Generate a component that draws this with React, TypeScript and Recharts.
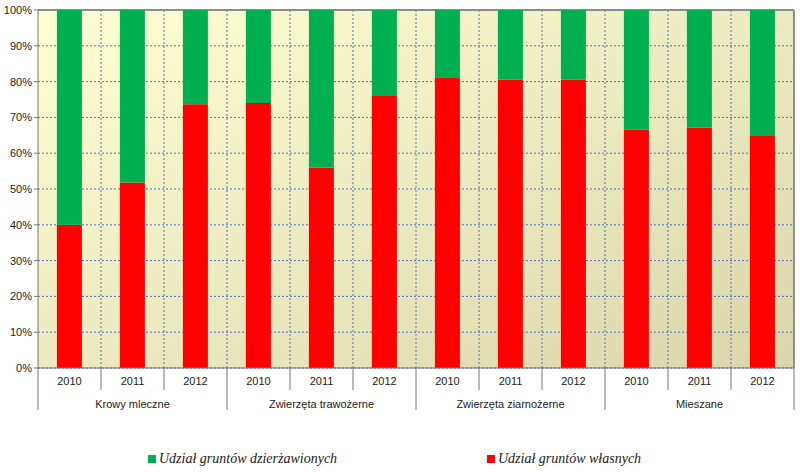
import React from "react"
import {
  BarChart,
  Bar,
  XAxis,
  YAxis,
  CartesianGrid,
  Customized
} from "recharts"

const groups = ["Krowy mleczne", "Zwierzęta trawożerne", "Zwierzęta ziarnożerne", "Mieszane"]
const years = ["2010", "2011", "2012"]
const owned = [40, 51.8, 73.7, 74, 56, 76, 81.2, 80.6, 80.5, 66.6, 67.2, 65]
const yTicks = [0, 10, 20, 30, 40, 50, 60, 70, 80, 90, 100]

const data = owned.map((v, i) => ({
  name: groups[Math.floor(i / 3)] + " " + years[i % 3],
  year: years[i % 3],
  group: groups[Math.floor(i / 3)],
  own: v,
  leased: +(100 - v).toFixed(1)
}))

const W = 800
const H = 472
const LEFT = 38
const RIGHT = 794
const TOP = 10
const BOTTOM = 368
const STEP = (RIGHT - LEFT) / data.length

const axisFont = "'Liberation Sans', Arial, sans-serif"

function XTick(props: any) {
  const { x, payload, index } = props
  const i = index ?? payload.index
  const d = data[i]
  const left = x - STEP / 2
  const isGroupStart = i % 3 === 0
  const isLast = i === data.length - 1
  return (
    <g>
      <line x1={left} y1={BOTTOM} x2={left} y2={isGroupStart ? 410 : 390} stroke="#777" />
      {isLast && <line x1={left + STEP} y1={BOTTOM} x2={left + STEP} y2={410} stroke="#777" />}
      <text x={x} y={BOTTOM + 17} textAnchor="middle" fontSize={11} fill="#222" fontFamily={axisFont}>
        {d.year}
      </text>
      {i % 3 === 1 && (
        <text x={x} y={BOTTOM + 40} textAnchor="middle" fontSize={11} fill="#222" fontFamily={axisFont}>
          {d.group}
        </text>
      )}
    </g>
  )
}

function Extras() {
  return (
    <g>
      <defs>
        <linearGradient id="bg" x1="0" y1="0" x2="1" y2="1">
          <stop offset="0%" stopColor="#FFFFD4" />
          <stop offset="100%" stopColor="#DAD6AC" />
        </linearGradient>
      </defs>
      <line x1={LEFT} y1={TOP} x2={RIGHT} y2={TOP} stroke="#888" strokeWidth={1.5} />
      <line x1={RIGHT} y1={TOP} x2={RIGHT} y2={BOTTOM} stroke="#888" strokeWidth={1.5} />
    </g>
  )
}

function LegendBox() {
  const item = (color: string, label: string, left: number) => (
    <div style={{ position: "absolute", left, top: 451, display: "flex", alignItems: "center" }}>
      <span style={{ width: 8, height: 8, background: color, marginRight: 3, display: "inline-block" }} />
      <span style={{ fontFamily: "'Liberation Serif', 'Times New Roman', serif", fontStyle: "italic", fontSize: 14, color: "#222" }}>
        {label}
      </span>
    </div>
  )
  return (
    <>
      {item("#00B050", "Udział gruntów dzierżawionych", 148)}
      {item("#FF0000", "Udział gruntów własnych", 487)}
    </>
  )
}

export default function App() {
  return (
    <div style={{ position: "absolute", left: 0, top: 0, width: W, height: H, background: "#fff" }}>
      <BarChart
        width={W}
        height={H}
        data={data}
        margin={{ top: TOP, right: W - RIGHT, bottom: 0, left: 0 }}
        barCategoryGap="30%"
      >
        <Customized component={Extras} />
        <CartesianGrid
          fill="url(#bg)"
          stroke="#4F72B8"
          strokeDasharray="2 2"
          verticalCoordinatesGenerator={({ offset }: any) =>
            data.slice(1).map((_, i) => offset.left + ((i + 1) * offset.width) / data.length)
          }
        />
        <XAxis
          dataKey="name"
          interval={0}
          height={H - BOTTOM}
          tickLine={false}
          axisLine={{ stroke: "#777" }}
          tick={<XTick />}
        />
        <YAxis
          width={LEFT}
          domain={[0, 100]}
          ticks={yTicks}
          tickFormatter={(v: number) => v + "%"}
          tickSize={4}
          tickMargin={2}
          axisLine={{ stroke: "#777" }}
          tickLine={{ stroke: "#777" }}
          tick={{ fontSize: 11, fill: "#222", fontFamily: axisFont }}
          allowDataOverflow
        />
        <Bar dataKey="own" stackId="a" fill="#FF0000" isAnimationActive={false} />
        <Bar dataKey="leased" stackId="a" fill="#00B050" isAnimationActive={false} />
        <Customized component={Extras} />
      </BarChart>
      <LegendBox />
    </div>
  )
}
